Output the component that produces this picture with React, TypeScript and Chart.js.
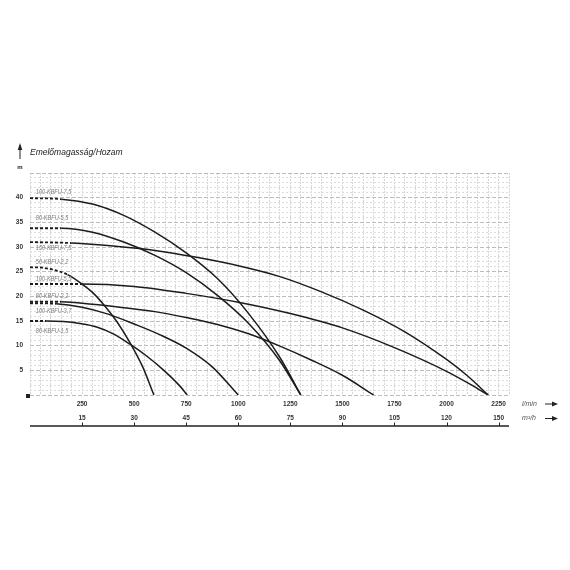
import { useEffect, useRef } from 'react';
import { Chart, registerables } from 'chart.js';

Chart.register(...registerables);

const FONT = "'Liberation Sans', Arial, sans-serif";

// Pump types, in the order their curves are listed
const pumpNames = [
  '100-KBFU-7,5',
  '80-KBFU-5,5',
  '150-KBFU-7,5',
  '50-KBFU-2,2',
  '100-KBFU-5,5',
  '80-KBFU-2,2',
  '100-KBFU-3,7',
  '80-KBFU-1,5',
];

// Performance curves: flow (l/min) and head (m)
const flow100_75 = [0, 150, 300, 450, 600, 750, 900, 1050, 1200, 1300];
const head100_75 = [39.9, 39.7, 38.7, 36.4, 33.0, 28.8, 23.6, 16.5, 7.6, 0];

const flow80_55 = [0, 150, 300, 450, 600, 750, 900, 1050, 1200, 1300];
const head80_55 = [33.8, 33.8, 33.0, 31.0, 28.3, 24.8, 20.2, 14.5, 6.9, 0];

const flow150_75 = [0, 200, 400, 600, 800, 1000, 1200, 1400, 1600, 1800, 2000, 2100, 2200];
const head150_75 = [31, 30.8, 30.2, 29.3, 27.9, 26.2, 24.0, 20.9, 17.2, 12.8, 7.2, 3.9, 0];

const flow50_22 = [0, 60, 120, 180, 240, 300, 360, 420, 480, 540, 595];
const head50_22 = [25.9, 25.8, 25.3, 24.4, 22.8, 20.8, 18.0, 14.7, 10.6, 5.8, 0];

const flow100_55 = [0, 250, 500, 750, 1000, 1250, 1500, 1750, 2000, 2100, 2200];
const head100_55 = [22.5, 22.5, 22.0, 20.6, 18.8, 16.5, 13.6, 9.6, 4.8, 2.5, 0];

const flow80_22 = [0, 125, 250, 375, 500, 625, 750, 875, 1000];
const head80_22 = [18.6, 18.5, 17.8, 16.4, 14.4, 12.2, 9.5, 5.7, 0];

const flow100_37 = [0, 150, 300, 450, 600, 750, 900, 1050, 1200, 1350, 1500, 1650];
const head100_37 = [18.9, 18.9, 18.4, 17.7, 16.9, 15.7, 14.3, 12.4, 9.9, 7.1, 4.0, 0];

const flow80_15 = [0, 80, 160, 240, 320, 400, 480, 560, 640, 720, 755];
const head80_15 = [15, 15, 14.9, 14.5, 13.8, 12.4, 10.3, 7.9, 5.1, 1.8, 0];

const flows = [flow100_75, flow80_55, flow150_75, flow50_22, flow100_55, flow80_22, flow100_37, flow80_15];
const heads = [head100_75, head80_55, head150_75, head50_22, head100_55, head80_22, head100_37, head80_15];

// Flow up to which each curve is drawn dashed (low-flow region)
const dashedUntil = [150, 150, 200, 180, 250, 125, 150, 80];

// Where each pump name is written (flow, head)
const nameFlow = 28;
const nameHeads = [41.2, 35.8, 29.9, 27.0, 23.5, 20.1, 17.1, 13.0];

// Axis ticks: l/min row and the matching m³/h row
const flowTicks = [250, 500, 750, 1000, 1250, 1500, 1750, 2000, 2250];
const flowTickLabels = ['250', '500', '750', '1000', '1250', '1500', '1750', '2000', '2250'];
const m3hTickLabels = ['15', '30', '45', '60', '75', '90', '105', '120', '150'];
const headTicks = [5, 10, 15, 20, 25, 30, 35, 40];
const headTickLabels = ['5', '10', '15', '20', '25', '30', '35', '40'];

const FLOW_MAX = 2300;
const HEAD_MAX = 45;

function arrowRight(ctx: CanvasRenderingContext2D, x: number, y: number) {
  ctx.beginPath();
  ctx.moveTo(x, y);
  ctx.lineTo(x + 8, y);
  ctx.stroke();
  ctx.beginPath();
  ctx.moveTo(x + 13, y);
  ctx.lineTo(x + 7, y - 2.5);
  ctx.lineTo(x + 7, y + 2.5);
  ctx.closePath();
  ctx.fill();
}

const decorations = {
  id: 'decorations',
  afterDatasetsDraw(chart: any) {
    const { ctx, scales } = chart;
    const x = scales.x;
    const y = scales.y;
    ctx.save();
    ctx.fillStyle = '#7c7c7c';
    ctx.font = `italic 7.5px ${FONT}`;
    ctx.textBaseline = 'middle';
    ctx.textAlign = 'left';
    pumpNames.forEach((name, i) => {
      const px = x.getPixelForValue(nameFlow);
      const py = y.getPixelForValue(nameHeads[i]);
      ctx.save();
      ctx.translate(px, py);
      ctx.scale(0.74, 1);
      ctx.fillText(name, 0, 0);
      ctx.restore();
    });
    ctx.restore();
  },
  afterDraw(chart: any) {
    const { ctx, chartArea, scales } = chart;
    const x = scales.x;
    const y = scales.y;
    ctx.save();

    // title and unit of the head axis
    ctx.fillStyle = '#222';
    ctx.font = `italic 8.5px ${FONT}`;
    ctx.textBaseline = 'middle';
    ctx.textAlign = 'left';
    ctx.fillText('Emelőmagasság/Hozam', chartArea.left, 153);

    ctx.strokeStyle = '#222';
    ctx.fillStyle = '#222';
    ctx.lineWidth = 1;
    ctx.beginPath();
    ctx.moveTo(20, 159);
    ctx.lineTo(20, 148);
    ctx.stroke();
    ctx.beginPath();
    ctx.moveTo(20, 143);
    ctx.lineTo(17.7, 150);
    ctx.lineTo(22.3, 150);
    ctx.closePath();
    ctx.fill();

    ctx.font = `bold 6px ${FONT}`;
    ctx.textAlign = 'center';
    ctx.fillText('m', 20, 167);

    // origin marker
    const y0 = y.getPixelForValue(0);
    ctx.fillRect(chartArea.left - 4, y0 - 1, 4, 4);

    // m³/h row: labels, axis line and tick marks
    const row1 = (x.top + x.bottom) / 2 + 1;
    const row2 = x.bottom + 7.5;
    const lineY = x.bottom + 15;
    ctx.fillStyle = '#333';
    ctx.font = `bold 6.5px ${FONT}`;
    ctx.textAlign = 'center';
    flowTicks.forEach((v, i) => {
      ctx.fillText(m3hTickLabels[i], x.getPixelForValue(v), row2);
    });

    ctx.strokeStyle = '#222';
    ctx.lineWidth = 1.5;
    ctx.beginPath();
    ctx.moveTo(chartArea.left, lineY);
    ctx.lineTo(chartArea.right, lineY);
    ctx.stroke();
    ctx.lineWidth = 1;
    flowTicks.forEach((v) => {
      const px = Math.round(x.getPixelForValue(v)) + 0.5;
      ctx.beginPath();
      ctx.moveTo(px, lineY - 3.5);
      ctx.lineTo(px, lineY);
      ctx.stroke();
    });

    // unit names with arrows
    ctx.fillStyle = '#555';
    ctx.font = `italic 7px ${FONT}`;
    ctx.textAlign = 'left';
    ctx.fillText('l/min', chartArea.right + 13, row1);
    ctx.fillText('m³/h', chartArea.right + 13, row2);
    ctx.fillStyle = '#222';
    ctx.strokeStyle = '#222';
    arrowRight(ctx, chartArea.right + 36, row1);
    arrowRight(ctx, chartArea.right + 36, row2);

    ctx.restore();
  },
};

export default function App() {
  const ref = useRef<HTMLCanvasElement | null>(null);

  useEffect(() => {
    if (!ref.current) return;
    const datasets = pumpNames.map((name, i) => {
      const limit = dashedUntil[i];
      return {
        label: name,
        data: flows[i].map((q, k) => ({ x: q, y: heads[i][k] })),
        borderColor: '#1c1c1c',
        borderWidth: 1.5,
        pointRadius: 0,
        fill: false,
        cubicInterpolationMode: 'monotone' as const,
        segment: {
          borderDash: (ctx: any) => (ctx.p1.parsed.x <= limit ? [3, 2] : undefined),
          borderWidth: (ctx: any) => (ctx.p1.parsed.x <= limit ? 1.8 : undefined),
        },
      };
    });

    const chart = new Chart(ref.current, {
      type: 'line',
      data: { datasets },
      options: {
        responsive: false,
        animation: false,
        events: [],
        layout: { padding: { left: 0, top: 173, right: 61, bottom: 159 } },
        plugins: { legend: { display: false }, tooltip: { enabled: false }, title: { display: false } },
        scales: {
          x: {
            type: 'linear',
            position: 'bottom',
            min: 0,
            max: FLOW_MAX,
            afterFit: (scale: any) => {
              scale.height = 16;
            },
            border: {
              display: false,
              dash: [2, 1],
            },
            grid: {
              color: '#d6d6d6',
              lineWidth: 1,
              drawTicks: false,
            },
            ticks: {
              stepSize: 50,
              autoSkip: false,
              maxRotation: 0,
              minRotation: 0,
              padding: 5,
              color: '#333',
              font: { family: FONT, size: 6.5, weight: 'bold' },
              callback: (v: any) => {
                const i = flowTicks.indexOf(Number(v));
                return i >= 0 ? flowTickLabels[i] : '';
              },
            },
          },
          y: {
            type: 'linear',
            position: 'left',
            min: 0,
            max: HEAD_MAX,
            afterFit: (scale: any) => {
              scale.width = 30;
            },
            border: {
              display: false,
              dash: (c: any) => (c.tick && c.tick.value % 5 === 0 ? [4, 2] : [2, 2]),
            },
            grid: {
              color: (c: any) => (c.tick && c.tick.value % 5 === 0 ? '#bcbcbc' : '#dcdcdc'),
              lineWidth: 1,
              drawTicks: false,
            },
            ticks: {
              stepSize: 1,
              autoSkip: false,
              padding: 7,
              color: '#333',
              font: { family: FONT, size: 6.5, weight: 'bold' },
              callback: (v: any) => {
                const i = headTicks.indexOf(Number(v));
                return i >= 0 ? headTickLabels[i] : '';
              },
            },
          },
        },
      },
      plugins: [decorations],
    });
    return () => chart.destroy();
  }, []);

  return (
    <canvas
      ref={ref}
      width={570}
      height={570}
      style={{ position: 'absolute', left: 0, top: 0, width: 570, height: 570 }}
    />
  );
}
